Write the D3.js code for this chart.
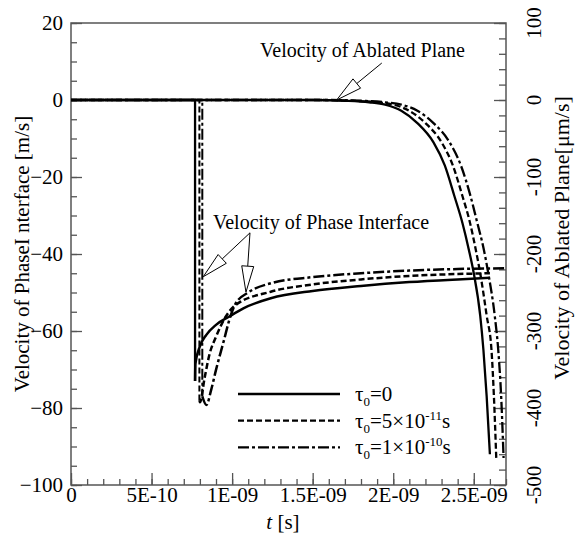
<!DOCTYPE html>
<html>
<head>
<meta charset="utf-8">
<script src="https://cdn.jsdelivr.net/npm/d3@7/dist/d3.min.js"></script>
<style>
  body { margin: 0; background: #fff; }
  text { font-family: "Liberation Serif", "Times New Roman", serif; fill: #000; }
</style>
</head>
<body>
<svg width="575" height="544"></svg>
<script>
// time values are in ns (1E-09 s)
const xTickValues = [0, 0.5, 1, 1.5, 2, 2.5];
const xTickLabels = ["0", "5E-10", "1E-09", "1.5E-09", "2E-09", "2.5E-09"];
const leftTicks = [-100, -80, -60, -40, -20, 0, 20];
const rightTicks = [-500, -400, -300, -200, -100, 0, 100];

// velocity of phase interface [m/s]  (left axis)
const phaseT_0 = [0, 0.770, 0.770, 0.772, 0.80, 0.84, 0.90, 0.98, 1.07, 1.24, 1.5, 1.8, 2.1, 2.4, 2.6];
const phaseV_0 = [0, 0, -73, -68.5, -64, -61, -58.4, -56.3, -54.1, -51.5, -49.6, -48.3, -47.3, -46.6, -46.2];
const phaseT_1 = [0, 0.797, 0.797, 0.80, 0.83, 0.86, 0.90, 0.96, 1.02, 1.24, 1.5, 1.8, 2.1, 2.4, 2.6];
const phaseV_1 = [0, 0, -78, -78.5, -72, -66, -61.5, -56.3, -53.3, -49.8, -47.9, -46.6, -45.7, -45.2, -45.0];
const phaseT_2 = [0, 0.815, 0.815, 0.84, 0.87, 0.90, 0.95, 0.98, 1.02, 1.1, 1.24, 1.5, 1.8, 2.1, 2.4, 2.7];
const phaseV_2 = [0, 0, -77, -79.2, -75.3, -70.1, -62.3, -57.5, -53, -50, -47.6, -46.0, -45.0, -44.3, -43.9, -43.7];

// velocity of ablated plane [um/s]  (right axis)
const ablT_0 = [0, 1.5, 1.7, 1.85, 1.95, 2.05, 2.15, 2.25, 2.32, 2.38, 2.43, 2.47, 2.50, 2.54, 2.56, 2.58, 2.60];
const ablV_0 = [0, 0, -1, -3, -6, -14, -30, -55, -85, -125, -160, -195, -225, -280, -325, -385, -460];
const ablT_1 = [0, 1.55, 1.75, 1.9, 2.0, 2.1, 2.2, 2.3, 2.37, 2.43, 2.475, 2.51, 2.54, 2.58, 2.61, 2.625, 2.64];
const ablV_1 = [0, 0, -1, -3, -6, -14, -30, -55, -85, -125, -158, -192, -225, -280, -325, -385, -468];
const ablT_2 = [0, 1.6, 1.8, 1.95, 2.05, 2.15, 2.25, 2.35, 2.42, 2.48, 2.52, 2.56, 2.59, 2.63, 2.652, 2.67, 2.685];
const ablV_2 = [0, 0, -1, -3, -6, -14, -30, -55, -85, -125, -158, -192, -225, -280, -325, -385, -465];

const dashes = [null, "6,3", "11,3,3,3"];

const svg = d3.select("svg");
const mLeft = 71, mRight = 506, mTop = 23, mBottom = 485;

const x = d3.scaleLinear().domain([0, 2.7]).range([mLeft, mRight]);
const yL = d3.scaleLinear().domain([-100, 20]).range([mBottom, mTop]);
const yR = d3.scaleLinear().domain([-500, 100]).range([mBottom, mTop]);

const axisColor = "#555";

// minor ticks
svg.append("g").attr("transform", `translate(0,${mBottom})`)
    .call(d3.axisBottom(x).tickValues(d3.range(0, 2.71, 0.1)).tickSize(-6).tickFormat(""));
svg.append("g").attr("transform", `translate(${mLeft},0)`)
    .call(d3.axisLeft(yL).tickValues(d3.range(-100, 21, 5)).tickSize(-6).tickFormat(""));
svg.append("g").attr("transform", `translate(${mRight},0)`)
    .call(d3.axisRight(yR).tickValues(d3.range(-500, 101, 20)).tickSize(-7).tickFormat(""));

// major ticks + labels
svg.append("g").attr("transform", `translate(0,${mBottom})`)
    .call(d3.axisBottom(x).tickValues(xTickValues).tickSize(-12).tickPadding(2)
        .tickFormat((d, i) => xTickLabels[i]));
svg.append("g").attr("transform", `translate(${mLeft},0)`)
    .call(d3.axisLeft(yL).tickValues(leftTicks).tickSize(-11).tickPadding(8).tickFormat(d3.format("d")));
svg.append("g").attr("transform", `translate(${mRight},0)`)
    .call(d3.axisRight(yR).tickValues(rightTicks).tickSize(-12).tickFormat(""));

svg.selectAll(".domain").remove();
svg.selectAll(".tick line").attr("stroke", axisColor).attr("stroke-width", 1.3);
svg.selectAll(".tick text").style("font-size", "21px").style("font-family", '"Liberation Serif", serif').attr("fill", "#000");

// right tick labels, rotated
svg.append("g").selectAll("text")
    .data(rightTicks)
    .enter().append("text")
    .attr("transform", d => `translate(541,${yR(d)}) rotate(-90)`)
    .attr("text-anchor", "middle")
    .attr("font-size", "21px")
    .text(d => d);

// frame
svg.append("rect")
    .attr("x", mLeft).attr("y", mTop)
    .attr("width", mRight - mLeft).attr("height", mBottom - mTop)
    .attr("fill", "none").attr("stroke", axisColor).attr("stroke-width", 1.5);

// axis titles
svg.append("text")
    .attr("transform", `translate(29,${(mTop + mBottom) / 2}) rotate(-90)`)
    .attr("text-anchor", "middle").attr("font-size", "21px")
    .text("Velocity of PhaseI nterface [m/s]");
svg.append("text")
    .attr("transform", `translate(569,238) rotate(-90)`)
    .attr("text-anchor", "middle").attr("font-size", "22px")
    .text("Velocity of Ablated Plane[μm/s]");
const xt = svg.append("text").attr("x", 283).attr("y", 529)
    .attr("text-anchor", "middle").attr("font-size", "21px");
xt.append("tspan").attr("font-style", "italic").text("t");
xt.append("tspan").text(" [s]");

// curves
const lineLin = d3.line().x(d => x(d[0])).y(d => d[2]);
const lineSmooth = d3.line().curve(d3.curveMonotoneX).x(d => x(d[0])).y(d => d[2]);

const plot = svg.append("g");

const ablSeries = [[ablT_0, ablV_0], [ablT_1, ablV_1], [ablT_2, ablV_2]];
ablSeries.forEach((s, i) => {
    const pts = s[0].map((t, j) => [t, s[1][j], yR(s[1][j])]);
    plot.append("path")
        .attr("d", lineSmooth(pts))
        .attr("fill", "none").attr("stroke", "#000").attr("stroke-width", 2.3)
        .attr("stroke-dasharray", dashes[i]);
});

const phaseSeries = [[phaseT_0, phaseV_0], [phaseT_1, phaseV_1], [phaseT_2, phaseV_2]];
phaseSeries.forEach((s, i) => {
    const pts = s[0].map((t, j) => [t, s[1][j], yL(s[1][j])]);
    // flat part and sudden drop
    plot.append("path")
        .attr("d", lineLin(pts.slice(0, 3)))
        .attr("fill", "none").attr("stroke", "#000").attr("stroke-width", i === 0 ? 2.3 : 2)
        .attr("stroke-dasharray", dashes[i]);
    // recovery
    plot.append("path")
        .attr("d", lineSmooth(pts.slice(2)))
        .attr("fill", "none").attr("stroke", "#000").attr("stroke-width", 2.5)
        .attr("stroke-dasharray", dashes[i]);
});

// annotations with hollow arrow heads
function arrow(x1, y1, x2, y2) {
    const a = Math.atan2(y2 - y1, x2 - x1);
    const len = 26, hw = 6;
    const bx = x2 - len * Math.cos(a), by = y2 - len * Math.sin(a);
    svg.append("line").attr("x1", x1).attr("y1", y1).attr("x2", bx).attr("y2", by)
        .attr("stroke", "#000").attr("stroke-width", 1);
    const p = [[x2, y2],
               [bx + hw * Math.sin(a), by - hw * Math.cos(a)],
               [bx - hw * Math.sin(a), by + hw * Math.cos(a)]];
    svg.append("polygon").attr("points", p.map(q => q.join(",")).join(" "))
        .attr("fill", "#fff").attr("stroke", "#000").attr("stroke-width", 1);
}

svg.append("text").attr("x", 465).attr("y", 57).attr("text-anchor", "end")
    .attr("font-size", "20px").text("Velocity of Ablated Plane");
arrow(x(1.929), yL(9.6), x(1.649), yL(0));

svg.append("text").attr("x", 213).attr("y", 229)
    .attr("font-size", "20px").text("Velocity of Phase Interface");
arrow(x(1.111), yL(-34.5), x(0.821), yL(-45.9));
arrow(x(1.111), yL(-34.5), x(1.086), yL(-49.9));

// legend
const legendLabels = [["0", "", ""], ["0", "5×10", "-11"], ["0", "1×10", "-10"]];
const lg = svg.append("g");
legendLabels.forEach((l, i) => {
    const ly = 394 + i * 26.7;
    lg.append("line").attr("x1", 238).attr("x2", 340).attr("y1", ly).attr("y2", ly)
        .attr("stroke", "#000").attr("stroke-width", 2.3).attr("stroke-dasharray", dashes[i]);
    const t = lg.append("text").attr("x", 355).attr("y", ly + 7).attr("font-size", "21px");
    t.append("tspan").text("τ");
    t.append("tspan").attr("font-size", "13px").attr("dy", 5).text(l[0]);
    if (i === 0) {
        t.append("tspan").attr("dy", -5).text("=0");
    } else {
        t.append("tspan").attr("dy", -5).text("=" + l[1]);
        t.append("tspan").attr("font-size", "13px").attr("dy", -8).text(l[2]);
        t.append("tspan").attr("dy", 8).text("s");
    }
});
</script>
</body>
</html>
